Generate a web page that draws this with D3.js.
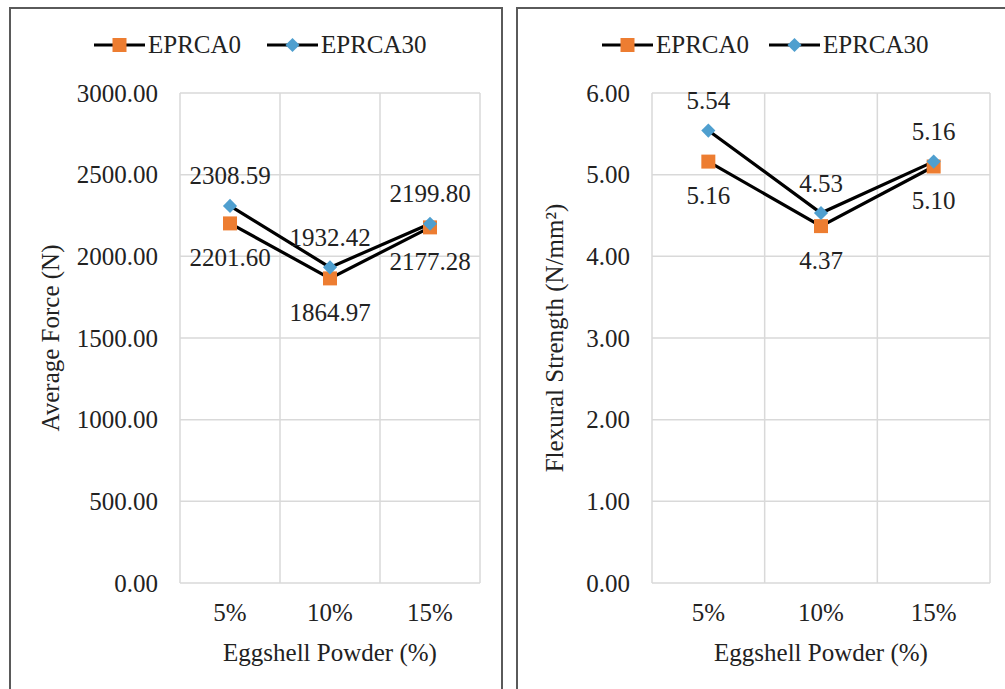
<!DOCTYPE html>
<html>
<head>
<meta charset="utf-8">
<script src="https://cdn.jsdelivr.net/npm/d3@7"></script>
<style>
  body { margin: 0; background: #fff; }
  svg, svg text { font-family: "Liberation Serif", "Times New Roman", Times, "DejaVu Serif", serif !important; }
  svg { display: block; }
</style>
</head>
<body>
<svg id="chart" width="1005" height="689"></svg>
<script>
// data
const categories = ["5%", "10%", "15%"];
const seriesNames = ["EPRCA0", "EPRCA30"];
const forceEPRCA0 = [2201.60, 1864.97, 2177.28];
const forceEPRCA30 = [2308.59, 1932.42, 2199.80];
const flexEPRCA0 = [5.16, 4.37, 5.10];
const flexEPRCA30 = [5.54, 4.53, 5.16];
const forceTicks = [0, 500, 1000, 1500, 2000, 2500, 3000];
const flexTicks = [0, 1, 2, 3, 4, 5, 6];

const orange = "#ED7D31", blue = "#4F9FCF";
const fontSize = 25;

const svg = d3.select("#chart");

const square = d3.symbol().type(d3.symbolSquare).size(196);
const diamond = d3.symbol().type(d3.symbolSquare).size(100);

function drawMarker(g, i, x, y) {
  if (i === 0) {
    g.append("path").attr("d", square())
      .attr("transform", `translate(${x},${y})`)
      .attr("fill", orange);
  } else {
    g.append("path").attr("d", diamond())
      .attr("transform", `translate(${x},${y}) rotate(45)`)
      .attr("fill", blue);
  }
}

function drawPanel(opts) {
  const { box, plot, ticks, series, yTitle, legendX, yTitleX } = opts;
  const g = svg.append("g");

  // panel frame
  g.append("rect")
    .attr("x", box.x).attr("y", box.y)
    .attr("width", box.w).attr("height", box.h)
    .attr("fill", "#fff")
    .attr("stroke", "#5a5a5a").attr("stroke-width", 2);

  let xScale = d3.scaleBand()
    .domain(categories)
    .range([plot.left, plot.right]);
  let yScale = d3.scaleLinear()
    .domain([ticks[0], ticks[ticks.length - 1]])
    .range([plot.bottom, plot.top]);

  // gridlines
  g.append("g").selectAll("line.h")
    .data(ticks).enter().append("line")
    .attr("x1", plot.left).attr("x2", plot.right)
    .attr("y1", d => yScale(d)).attr("y2", d => yScale(d))
    .attr("stroke", "#d9d9d9").attr("stroke-width", 1.5);

  const edges = categories.map(c => xScale(c)).concat([plot.right]);
  g.append("g").selectAll("line.v")
    .data(edges).enter().append("line")
    .attr("x1", d => d).attr("x2", d => d)
    .attr("y1", plot.top).attr("y2", plot.bottom)
    .attr("stroke", "#d9d9d9").attr("stroke-width", 1.5);

  // y axis labels
  let yAxis = d3.axisLeft(yScale)
    .tickValues(ticks)
    .tickFormat(d3.format(".2f"))
    .tickSize(0)
    .tickPadding(plot.left - opts.yLabelRight);
  let ya = g.append("g")
    .attr("transform", `translate(${plot.left},0)`)
    .call(yAxis);
  ya.attr("font-family", null);
  ya.select(".domain").remove();
  ya.selectAll("text")
    .attr("font-size", fontSize)
    .attr("fill", "#222");

  // x axis labels
  let xAxis = d3.axisBottom(xScale).tickSize(0).tickPadding(0);
  let xa = g.append("g")
    .attr("transform", `translate(0,612)`)
    .call(xAxis);
  xa.attr("font-family", null);
  xa.select(".domain").remove();
  xa.selectAll("text")
    .attr("dy", null)
    .attr("y", 0)
    .attr("dominant-baseline", "central")
    .attr("font-size", fontSize)
    .attr("fill", "#222");

  // axis titles
  g.append("text")
    .attr("x", (plot.left + plot.right) / 2).attr("y", 652)
    .attr("text-anchor", "middle").attr("dominant-baseline", "central")
    .attr("font-size", fontSize).attr("fill", "#222")
    .text("Eggshell Powder (%)");

  g.append("text")
    .attr("transform", `translate(${yTitleX},${(plot.top + plot.bottom) / 2}) rotate(-90)`)
    .attr("text-anchor", "middle")
    .attr("font-size", fontSize).attr("fill", "#222")
    .text(yTitle);

  // series
  const line = d3.line()
    .x((d, i) => xScale(categories[i]) + xScale.bandwidth() / 2)
    .y(d => yScale(d));

  series.forEach((vals, si) => {
    g.append("path")
      .datum(vals)
      .attr("d", line)
      .attr("fill", "none")
      .attr("stroke", "#000")
      .attr("stroke-width", 3.2);
  });
  series.forEach((vals, si) => {
    vals.forEach((v, i) => {
      const cx = xScale(categories[i]) + xScale.bandwidth() / 2;
      drawMarker(g, si, cx, yScale(v));
      g.append("text")
        .attr("x", cx)
        .attr("y", yScale(v) + (si === 0 ? 34 : -30))
        .attr("text-anchor", "middle").attr("dominant-baseline", "central")
        .attr("font-size", fontSize).attr("fill", "#222")
        .text(d3.format(".2f")(v));
    });
  });

  // legend
  legendX.forEach((lx, si) => {
    const lg = g.append("g");
    lg.append("line")
      .attr("x1", lx).attr("x2", lx + 51)
      .attr("y1", 45).attr("y2", 45)
      .attr("stroke", "#000").attr("stroke-width", 3.2);
    drawMarker(lg, si, lx + 25.5, 45);
    lg.append("text")
      .attr("x", lx + 54).attr("y", 44)
      .attr("dominant-baseline", "central")
      .attr("font-size", fontSize).attr("fill", "#222")
      .text(seriesNames[si]);
  });
}

drawPanel({
  box: { x: 10, y: 8, w: 492, h: 700 },
  plot: { left: 180, right: 480, top: 93, bottom: 583 },
  yLabelRight: 158,
  ticks: forceTicks,
  series: [forceEPRCA0, forceEPRCA30],
  yTitle: "Average Force (N)",
  yTitleX: 59,
  legendX: [94, 267]
});

drawPanel({
  box: { x: 517, y: 8, w: 500, h: 700 },
  plot: { left: 652, right: 990, top: 93, bottom: 583 },
  yLabelRight: 630,
  ticks: flexTicks,
  series: [flexEPRCA0, flexEPRCA30],
  yTitle: "Flexural Strength (N/mm²)",
  yTitleX: 563,
  legendX: [602, 769]
});
</script>
</body>
</html>
